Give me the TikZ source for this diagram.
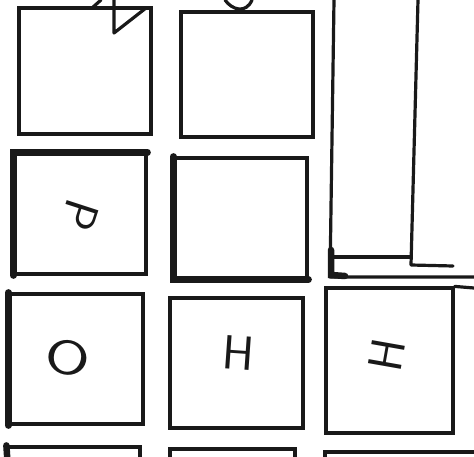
\documentclass[tikz,border=0pt]{standalone}
\usetikzlibrary{positioning}
\begin{document}
\begin{tikzpicture}[x=1pt,y=-1pt,
  cell/.style={draw=black!90,line width=3.2pt,rectangle,inner sep=0pt},
  letter/.style={inner sep=0pt,text=black!90,font=\fontsize{48}{48}\selectfont\sffamily},
  heavy/.style={draw=black!90,line width=6.5pt,line cap=round},
  wall/.style={draw=black!90,line width=3.2pt,line cap=round,line join=round}]
  \useasboundingbox (0,0) rectangle (474,457);
  \clip (0,0) rectangle (474,457);
  % Top row (letters cut off above)
  \node[cell,minimum width=132pt,minimum height=126pt] (cA) at (85,71) {};
  \node[cell,minimum width=132pt,minimum height=125pt] (cB) at (247,74.5) {};
  \draw[wall] (92,8) -- (101,0);
  \draw[wall] (114,0) -- (114,33) -- (146,8);
  \draw[wall] (225,0) .. controls (232,10) and (246,14) .. (252,0);
  % Second row
  \node[cell,minimum width=131pt,minimum height=120pt] (cP) at (80.5,214) {};
  \node[cell,minimum width=132pt,minimum height=120pt] (cE) at (241,218) {};
  \draw[heavy] (cP.south west) -- (cP.north west) -- (cP.north east);
  \draw[heavy] (cE.north west) -- (cE.south west) -- (cE.south east);
  \node[letter,rotate=-108] (lP) at (80,215) {P};
  % Long box on the right
  \draw[wall] (334,0) -- (330,277) -- (474,277);
  \draw[wall] (418,0) -- (411,265) -- (453,266);
  \draw[wall] (330,257) -- (411,257);
  \draw[heavy] (331,250) -- (331,275) -- (345,276);
  % Third row
  \node[cell,minimum width=133pt,minimum height=130pt] (cO) at (76.5,359) {};
  \node[cell,minimum width=133pt,minimum height=130pt] (cH) at (236.5,363) {};
  \node[cell,minimum width=127pt,minimum height=145pt] (cI) at (389.5,360.5) {};
  \draw[heavy] (cO.north west) -- (cO.south west);
  \draw[wall] (cI.north east) -- (474,288);
  \node[letter,rotate=-12,xscale=1.35] (lO) at (68,358) {O};
  \node[letter,rotate=-4] (lH) at (239,353) {H};
  \node[letter,rotate=80] (lI) at (387,355) {H};
  % Bottom row (cut off)
  \node[cell,minimum width=132pt,minimum height=120pt] (cX) at (74,507) {};
  \node[cell,minimum width=125pt,minimum height=120pt] (cY) at (232.5,509) {};
  \node[cell,minimum width=160pt,minimum height=120pt] (cZ) at (405,512) {};
  \draw[heavy] (cX.north west) -- (8,470);
\end{tikzpicture}
\end{document}
